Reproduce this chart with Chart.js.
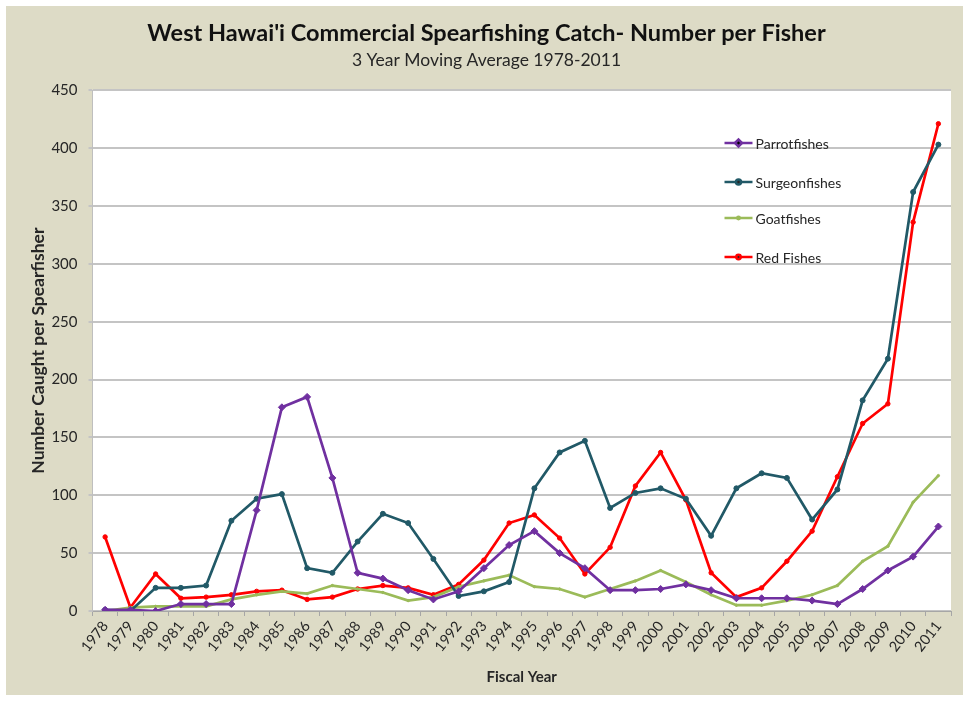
<!DOCTYPE html>
<html>
<head>
<meta charset="utf-8">
<script src="https://cdn.jsdelivr.net/npm/chart.js@4.4.0/dist/chart.umd.min.js"></script>
<style>
  html, body { margin: 0; padding: 0; background: #ffffff; }
  #wrap { width: 969px; height: 701px; }
</style>
</head>
<body>
<div id="wrap"><canvas id="catchChart" width="969" height="701"></canvas></div>
<script>
// 연도 (x축)
const years = ['1978','1979','1980','1981','1982','1983','1984','1985','1986','1987','1988','1989',
  '1990','1991','1992','1993','1994','1995','1996','1997','1998','1999','2000','2001','2002',
  '2003','2004','2005','2006','2007','2008','2009','2010','2011'];

// 어종별 3년 이동평균
const parrotfishes = [1, 1, 0, 6, 6, 6, 87, 176, 185, 115, 33, 28, 18, 10, 17, 37, 57, 69, 50, 37,
  18, 18, 19, 23, 18, 11, 11, 11, 9, 6, 19, 35, 47, 73];
const surgeonfishes = [1, 0, 20, 20, 22, 78, 97, 101, 37, 33, 60, 84, 76, 45, 13, 17, 25, 106, 137, 147,
  89, 102, 106, 97, 65, 106, 119, 115, 79, 105, 182, 218, 362, 403];
const goatfishes = [0, 3, 4, 4, 4, 10, 14, 17, 15, 22, 19, 16, 9, 12, 21, 26, 31, 21, 19, 12,
  19, 26, 35, 25, 14, 5, 5, 9, 14, 22, 43, 56, 94, 117];
const redFishes = [64, 3, 32, 11, 12, 14, 17, 18, 10, 12, 19, 22, 20, 14, 23, 44, 76, 83, 63, 32,
  55, 108, 137, 96, 33, 12, 20, 43, 69, 116, 162, 179, 336, 421];

const yTicks = { min: 0, max: 450, step: 50 };

const seriesNames = ['Parrotfishes', 'Surgeonfishes', 'Goatfishes', 'Red Fishes'];

const colors = {
    parrot: '#7030A0',
    surgeon: '#215967',
    goat: '#9BBB59',
    red: '#FF0000',
    panel: '#DDDBC6',
    grid: '#C4C4C4',
    text: '#262626'
};

const FONT = "Lato, 'Open Sans', sans-serif";

// 배경: 바깥 흰 테두리, 베이지 패널, 흰 플롯 영역
const backgroundPlugin = {
    id: 'panelBackground',
    beforeDraw(chart) {
        const { ctx, chartArea } = chart;
        ctx.save();
        ctx.fillStyle = '#ffffff';
        ctx.fillRect(0, 0, chart.width, chart.height);
        ctx.fillStyle = colors.panel;
        ctx.fillRect(6, 6, chart.width - 12, chart.height - 12);
        ctx.fillStyle = '#ffffff';
        ctx.fillRect(chartArea.left, chartArea.top, chartArea.right - chartArea.left, chartArea.bottom - chartArea.top);
        ctx.restore();
    }
};

// 플롯 안쪽 오른쪽 위에 세로 범례
const insideLegendPlugin = {
    id: 'insideLegend',
    afterDatasetsDraw(chart) {
        const { ctx, chartArea } = chart;
        const x0 = chartArea.left + 632;
        const ys = [143, 182, 218, 257];
        ctx.save();
        chart.data.datasets.forEach((ds, i) => {
            const y = ys[i];
            ctx.strokeStyle = ds.borderColor;
            ctx.lineWidth = 2.5;
            ctx.beginPath();
            ctx.moveTo(x0, y);
            ctx.lineTo(x0 + 28, y);
            ctx.stroke();
            if (ds.pointRadius > 0) {
                Chart.helpers.drawPoint(ctx, {
                    pointStyle: ds.pointStyle, radius: ds.pointRadius, borderWidth: 1
                }, x0 + 14, y);
            }
            ctx.fillStyle = colors.text;
            ctx.font = `14px ${FONT}`;
            ctx.textBaseline = 'middle';
            ctx.textAlign = 'left';
            ctx.fillText(ds.label, x0 + 31, y + 1);
        });
        ctx.restore();
    }
};

function makeDataset(label, data, color, pointStyle, radius) {
    return {
        label: label,
        data: data,
        borderColor: color,
        backgroundColor: color,
        pointBackgroundColor: color,
        pointBorderColor: color,
        borderWidth: 2.7,
        pointStyle: pointStyle,
        pointRadius: radius,
        pointBorderWidth: 1,
        tension: 0,
        fill: false
    };
}

document.addEventListener('DOMContentLoaded', () => {
    const ctx = document.getElementById('catchChart').getContext('2d');
    new Chart(ctx, {
        type: 'line',
        data: {
            labels: years,
            datasets: [
                makeDataset(seriesNames[0], parrotfishes, colors.parrot, 'rectRot', 3.5),
                makeDataset(seriesNames[1], surgeonfishes, colors.surgeon, 'circle', 2.5),
                makeDataset(seriesNames[2], goatfishes, colors.goat, 'circle', 1.2),
                makeDataset(seriesNames[3], redFishes, colors.red, 'circle', 2.2)
            ]
        },
        options: {
            responsive: false,
            animation: false,
            // 왼쪽 여백은 제목을 가운데(약 486px)에 맞추기 위한 것
            layout: { padding: { left: 22, right: 18, top: 0, bottom: 0 } },
            plugins: {
                legend: { display: false },
                tooltip: { enabled: false },
                title: {
                    display: true,
                    text: "West Hawai'i Commercial Spearfishing Catch- Number per Fisher",
                    color: '#111111',
                    font: { family: FONT, size: 23.5, weight: 'bold', lineHeight: 1.2 },
                    padding: { top: 19, bottom: 3 }
                },
                subtitle: {
                    display: true,
                    text: '3 Year Moving Average 1978-2011',
                    color: colors.text,
                    font: { family: FONT, size: 17.5, lineHeight: 1.2 },
                    padding: { top: 0, bottom: 19 }
                }
            },
            scales: {
                x: {
                    offset: true,
                    afterFit: scale => { scale.height = 90; },
                    grid: { drawOnChartArea: false, offset: true, tickLength: 5, color: '#A6A6A6' },
                    border: { color: '#A6A6A6', width: 1 },
                    ticks: {
                        color: colors.text,
                        font: { family: FONT, size: 14.5 },
                        minRotation: 52,
                        maxRotation: 52,
                        autoSkip: false,
                        padding: 2
                    },
                    title: {
                        display: true,
                        text: 'Fiscal Year',
                        color: colors.text,
                        font: { family: FONT, size: 15, weight: 'bold', lineHeight: 1.2 },
                        padding: { top: 4, bottom: 15 }
                    }
                },
                y: {
                    min: yTicks.min,
                    max: yTicks.max,
                    afterFit: scale => { scale.width = 70.5; },
                    grid: { color: colors.grid, lineWidth: 2, tickLength: 4 },
                    border: { color: '#BFBFBF', width: 1 },
                    ticks: {
                        stepSize: yTicks.step,
                        color: colors.text,
                        font: { family: FONT, size: 15 },
                        padding: 11
                    },
                    title: {
                        display: true,
                        text: 'Number Caught per Spearfisher',
                        color: colors.text,
                        font: { family: FONT, size: 17.5, weight: 'bold', lineHeight: 1.2 },
                        padding: { top: 6, bottom: 0 }
                    }
                }
            }
        },
        plugins: [backgroundPlugin, insideLegendPlugin]
    });
});
</script>
</body>
</html>
